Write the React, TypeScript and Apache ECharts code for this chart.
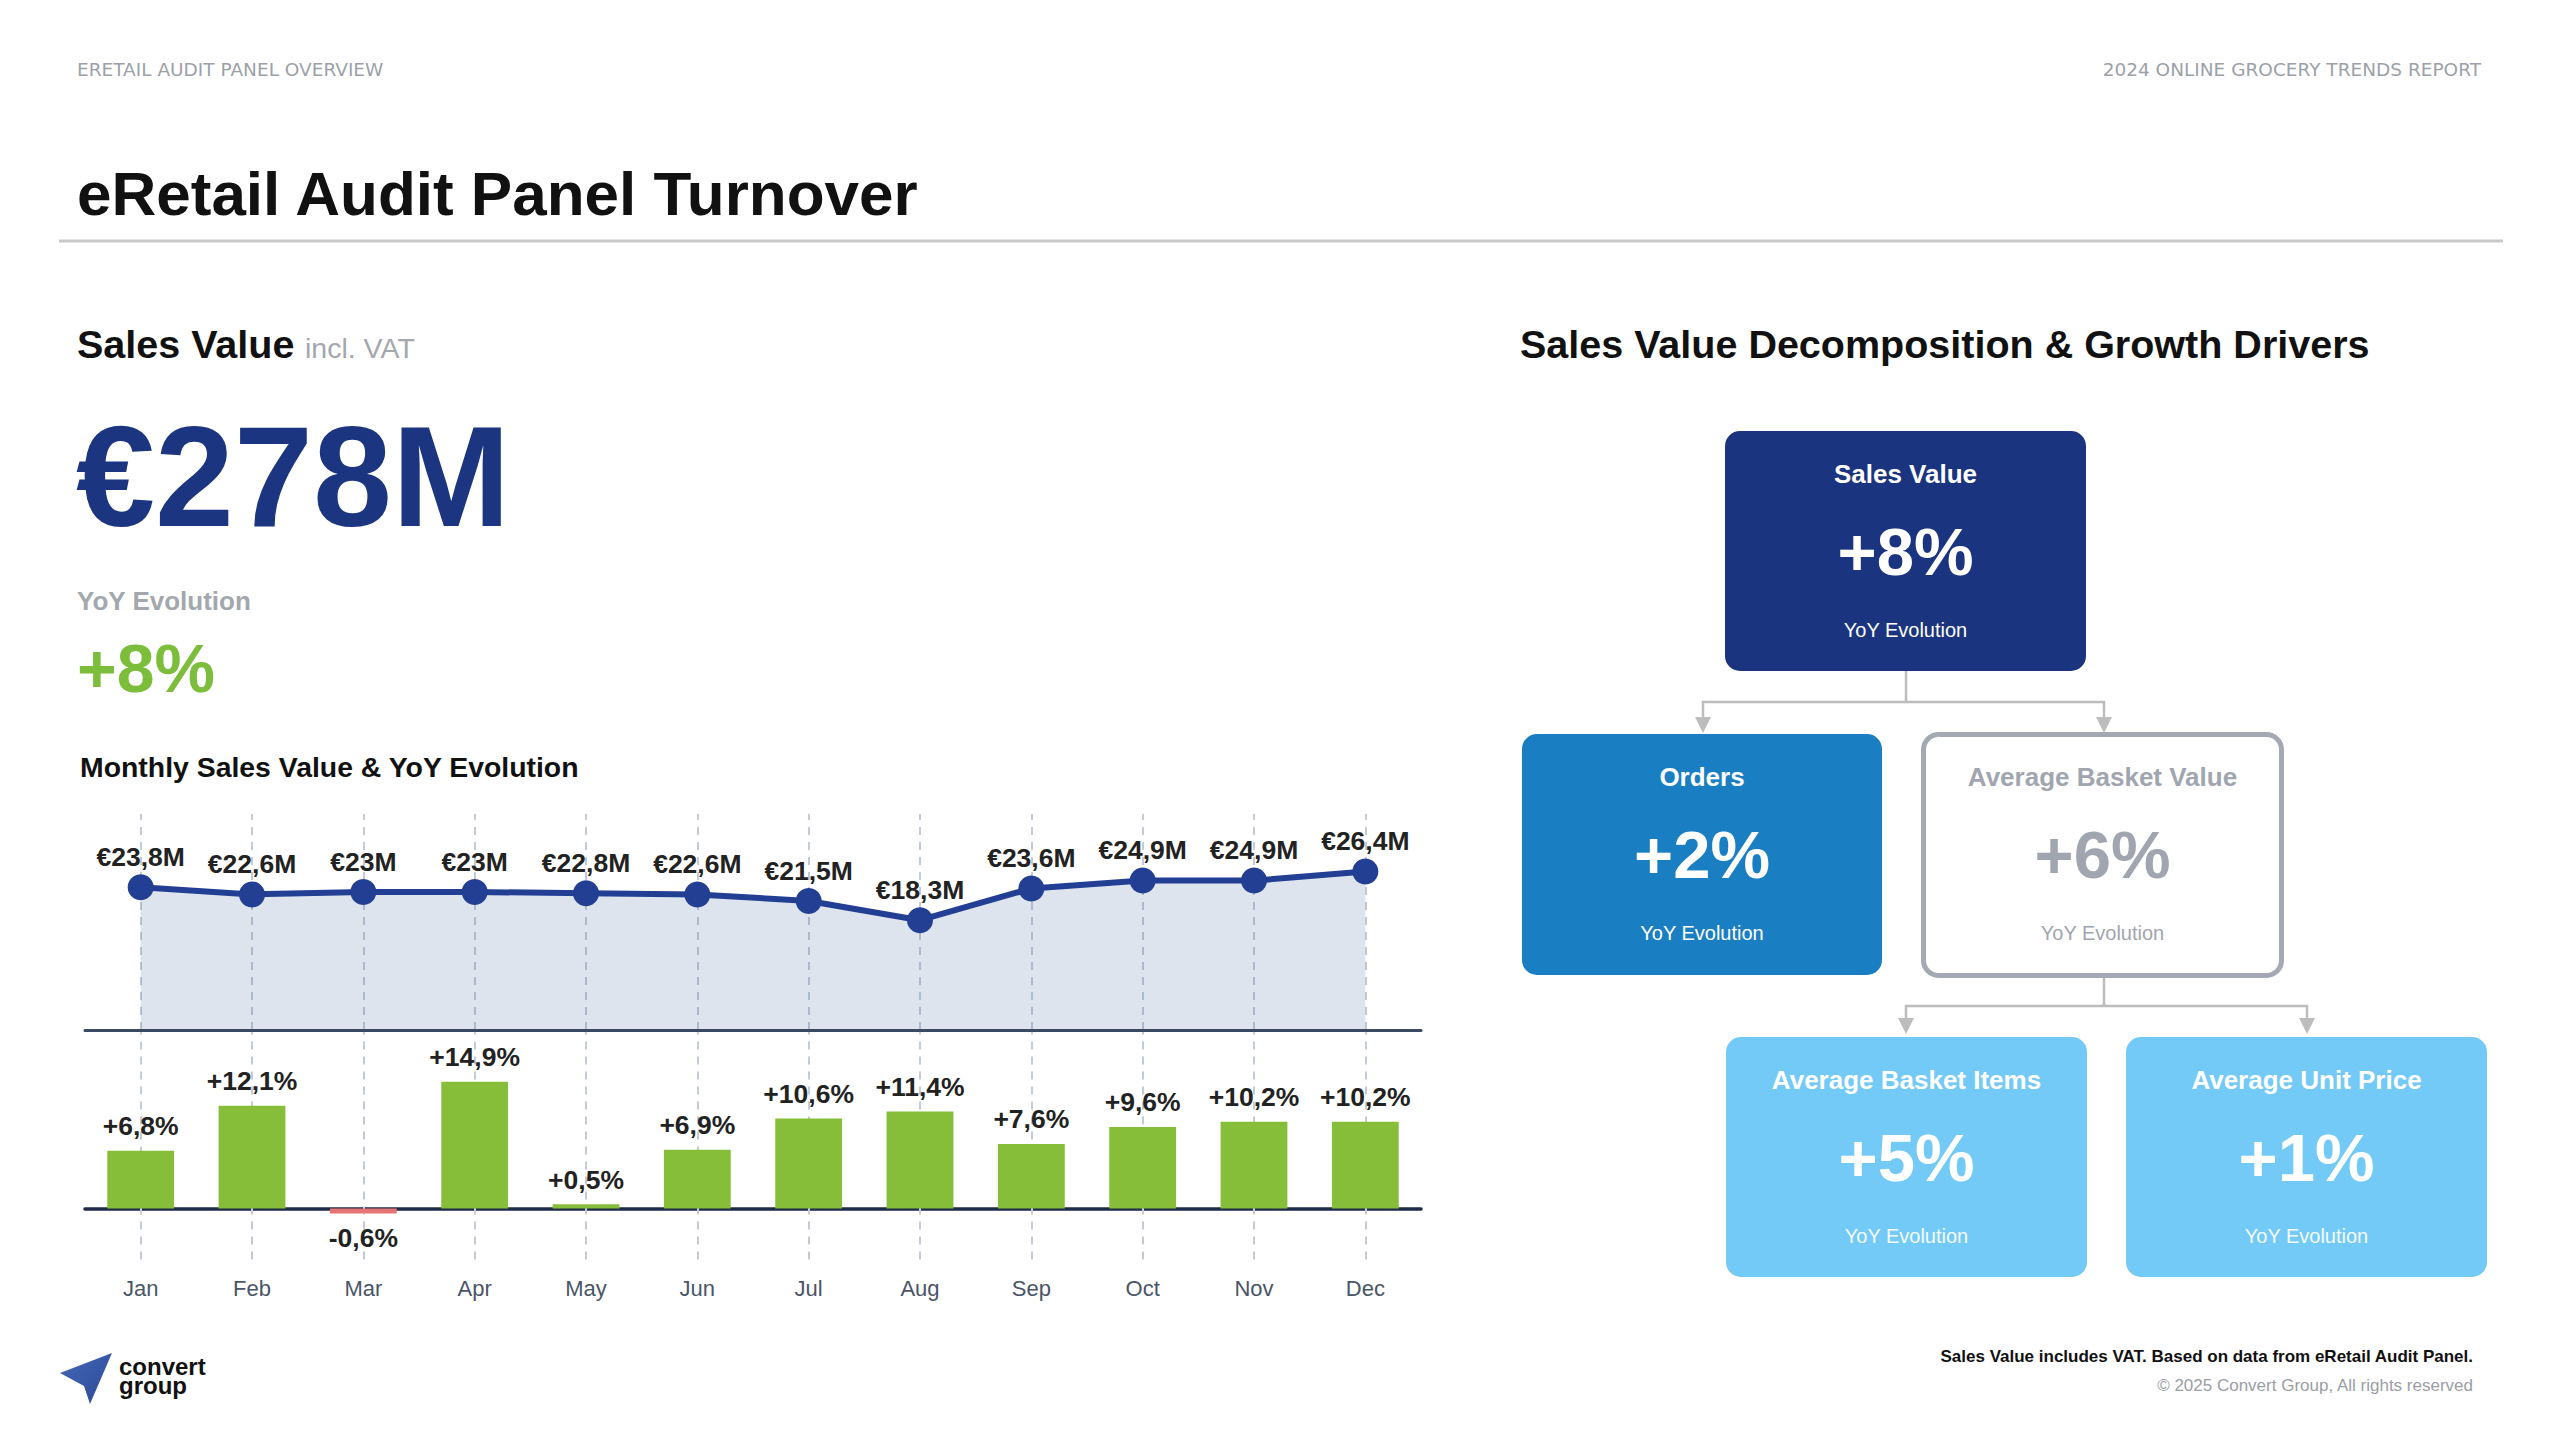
import { useEffect, useRef } from 'react';
import * as echarts from 'echarts';

const FONT = '"Liberation Sans", Arial, Helvetica, sans-serif';
const HEADER_FONT = '"DejaVu Sans", "Liberation Sans", sans-serif';

// ---- Data ----
const months = ['Jan', 'Feb', 'Mar', 'Apr', 'May', 'Jun', 'Jul', 'Aug', 'Sep', 'Oct', 'Nov', 'Dec'];
const salesValueM = [23.8, 22.6, 23, 23, 22.8, 22.6, 21.5, 18.3, 23.6, 24.9, 24.9, 26.4];
const yoyPct = [6.8, 12.1, -0.6, 14.9, 0.5, 6.9, 10.6, 11.4, 7.6, 9.6, 10.2, 10.2];

const totalSales = '€278M';
const totalYoY = '+8%';

const boxTitles = ['Sales Value', 'Orders', 'Average Basket Value', 'Average Basket Items', 'Average Unit Price'];
const boxValues = ['+8%', '+2%', '+6%', '+5%', '+1%'];
const boxSub = 'YoY Evolution';

const fmtComma = (v: number) => String(v).replace('.', ',');

function txt(x: number, y: number, text: string, size: number, weight: string, fill: string, align = 'left', family = FONT) {
  return {
    type: 'text',
    x,
    y,
    silent: true,
    style: {
      text,
      fontSize: size,
      fontWeight: weight,
      fontFamily: family,
      fill,
      align,
      verticalAlign: 'middle',
      textAlign: align,
      textVerticalAlign: 'middle',
    },
  };
}

function box(x: number, y: number, w: number, h: number, fill: string, stroke?: string, lw = 0) {
  return {
    type: 'rect',
    silent: true,
    shape: { x, y, width: w, height: h, r: 15 },
    style: stroke ? { fill, stroke, lineWidth: lw } : { fill },
  };
}

function boxTexts(cx: number, top: number, i: number, titleColor: string, valueColor: string, subColor: string) {
  return [
    txt(cx, top + 43, boxTitles[i], 26, 'bold', titleColor, 'center'),
    txt(cx, top + 120, boxValues[i], 67, 'bold', valueColor, 'center'),
    txt(cx, top + 199, boxSub, 20, 'normal', subColor, 'center'),
  ];
}

const CONN = '#bdbdbd';
function connector(fromX: number, fromY: number, midY: number, leftX: number, rightX: number, tipY: number) {
  const els: any[] = [
    { type: 'polyline', silent: true, shape: { points: [[fromX, fromY], [fromX, midY]] }, style: { stroke: CONN, lineWidth: 2.5, fill: null } },
    { type: 'polyline', silent: true, shape: { points: [[leftX, tipY - 15], [leftX, midY], [rightX, midY], [rightX, tipY - 15]] }, style: { stroke: CONN, lineWidth: 2.5, fill: null } },
  ];
  [leftX, rightX].forEach((ax) => {
    els.push({
      type: 'polygon',
      silent: true,
      shape: { points: [[ax - 8, tipY - 16], [ax + 8, tipY - 16], [ax, tipY]] },
      style: { fill: CONN },
    });
  });
  return els;
}

export default function App() {
  const ref = useRef<HTMLDivElement>(null);

  useEffect(() => {
    if (!ref.current) return;
    const chart = echarts.init(ref.current, undefined, { renderer: 'svg' });

    const vLines = months.map((m) => ({ xAxis: m }));
    const dashStyle = { color: '#c3cbd8', width: 2, type: [8, 7] as any };

    const graphic: any[] = [
      txt(77, 69, 'ERETAIL AUDIT PANEL OVERVIEW', 18.5, 'normal', '#9ca1a9', 'left', HEADER_FONT),
      txt(2481, 69, '2024 ONLINE GROCERY TRENDS REPORT', 18.5, 'normal', '#9ca1a9', 'right', HEADER_FONT),
      txt(77, 193, 'eRetail Audit Panel Turnover', 62, 'bold', '#111111'),
      { type: 'line', silent: true, shape: { x1: 59, y1: 241, x2: 2503, y2: 241 }, style: { stroke: '#c9c9c9', lineWidth: 3 } },
      txt(77, 344, 'Sales Value', 39.5, 'bold', '#111111'),
      txt(305, 348, 'incl. VAT', 28.5, 'normal', '#a3a7ae'),
      txt(76, 476, totalSales, 142, 'bold', '#1b3580'),
      txt(77, 601, 'YoY Evolution', 26, 'bold', '#a3a7ae'),
      txt(77, 668, totalYoY, 68, 'bold', '#7dbd3c'),
      txt(80, 767, 'Monthly Sales Value & YoY Evolution', 28.4, 'bold', '#111111'),
      txt(1520, 344, 'Sales Value Decomposition & Growth Drivers', 39.5, 'bold', '#111111'),

      // connectors
      ...connector(1906, 671, 702, 1703, 2104, 733),
      ...connector(2104, 978, 1006, 1906, 2307, 1034),

      // boxes
      box(1725, 431, 361, 240, '#1b3480'),
      ...boxTexts(1905.5, 431, 0, '#ffffff', '#ffffff', '#ffffff'),
      box(1522, 734, 360, 241, '#1a7ec3'),
      ...boxTexts(1702, 734, 1, '#ffffff', '#ffffff', '#ffffff'),
      box(1923.5, 734.5, 358, 241, '#ffffff', '#a4a9b3', 5),
      ...boxTexts(2102.5, 734, 2, '#a0a5af', '#a0a5af', '#a0a5af'),
      box(1726, 1037, 361, 240, '#74caf7'),
      ...boxTexts(1906.5, 1037, 3, '#ffffff', '#ffffff', '#f4fbff'),
      box(2126, 1037, 361, 240, '#74caf7'),
      ...boxTexts(2306.5, 1037, 4, '#ffffff', '#ffffff', '#f4fbff'),

      // footer
      txt(2473, 1356, 'Sales Value includes VAT. Based on data from eRetail Audit Panel.', 17, 'bold', '#111111', 'right'),
      txt(2473, 1385, '© 2025 Convert Group, All rights reserved', 17, 'normal', '#9a9ea6', 'right'),

      // logo
      {
        type: 'polygon',
        silent: true,
        shape: { points: [[60, 1373], [112, 1353], [90, 1404], [84, 1386]] },
        style: {
          fill: new echarts.graphic.LinearGradient(0, 0, 1, 1, [
            { offset: 0, color: '#4467b5' },
            { offset: 1, color: '#2c4a9a' },
          ]),
        },
      },
      txt(119, 1366, 'convert', 24, 'bold', '#111111'),
      txt(119, 1385, 'group', 24, 'bold', '#111111'),
    ];

    chart.setOption({
      animation: false,
      backgroundColor: '#ffffff',
      textStyle: { fontFamily: FONT },
      grid: [
        { left: 85, right: 1139, top: 814, height: 216 },
        { left: 85, right: 1139, top: 1030, bottom: 180.5 },
      ],
      xAxis: [
        {
          type: 'category',
          gridIndex: 0,
          data: months,
          z: 3,
          axisLine: { show: true, lineStyle: { color: '#3b4a63', width: 3 } },
          axisTick: { show: false },
          axisLabel: { show: false },
          splitLine: { show: false },
        },
        {
          type: 'category',
          gridIndex: 1,
          data: months,
          axisLine: { show: true, onZero: true, lineStyle: { color: '#1e2a48', width: 3.5 } },
          axisTick: { show: false },
          axisLabel: { show: true, margin: 18, fontSize: 22, color: '#4a5568', fontFamily: FONT },
          splitLine: { show: false },
        },
      ],
      yAxis: [
        { type: 'value', gridIndex: 0, min: 0, max: 36, show: false, splitLine: { show: false } },
        { type: 'value', gridIndex: 1, min: -6, max: 21, show: false, splitLine: { show: false } },
      ],
      series: [
        {
          type: 'line',
          xAxisIndex: 0,
          yAxisIndex: 0,
          data: salesValueM,
          silent: true,
          symbol: 'circle',
          symbolSize: 26,
          lineStyle: { color: '#233f94', width: 6 },
          itemStyle: { color: '#233f94' },
          areaStyle: { color: 'rgba(79,111,163,0.27)' },
          label: {
            show: true,
            position: 'top',
            distance: 4,
            fontSize: 26.5,
            fontWeight: 'bold',
            color: '#222222',
            fontFamily: FONT,
            formatter: (p: any) => `€${fmtComma(p.value)}M`,
          },
          emphasis: { disabled: true },
          markLine: {
            silent: true,
            z: 1,
            symbol: ['none', 'none'],
            label: { show: false },
            lineStyle: dashStyle,
            emphasis: { disabled: true },
            data: vLines,
          },
        },
        {
          type: 'bar',
          xAxisIndex: 1,
          yAxisIndex: 1,
          barWidth: '60%',
          silent: true,
          data: yoyPct.map((v) => ({
            value: v,
            itemStyle: { color: v < 0 ? '#e77474' : '#86be3a' },
            label: { position: v < 0 ? 'bottom' : 'top' },
          })),
          label: {
            show: true,
            distance: 11,
            fontSize: 26.5,
            fontWeight: 'bold',
            color: '#222222',
            fontFamily: FONT,
            formatter: (p: any) => `${p.value > 0 ? '+' : ''}${fmtComma(p.value)}%`,
          },
          emphasis: { disabled: true },
          markLine: {
            silent: true,
            z: 1,
            symbol: ['none', 'none'],
            label: { show: false },
            lineStyle: dashStyle,
            emphasis: { disabled: true },
            data: vLines,
          },
        },
      ],
      graphic,
    });

    return () => {
      chart.dispose();
    };
  }, []);

  return (
    <div
      ref={ref}
      style={{ position: 'fixed', left: 0, top: 0, width: 2560, height: 1440, background: '#ffffff' }}
    />
  );
}
